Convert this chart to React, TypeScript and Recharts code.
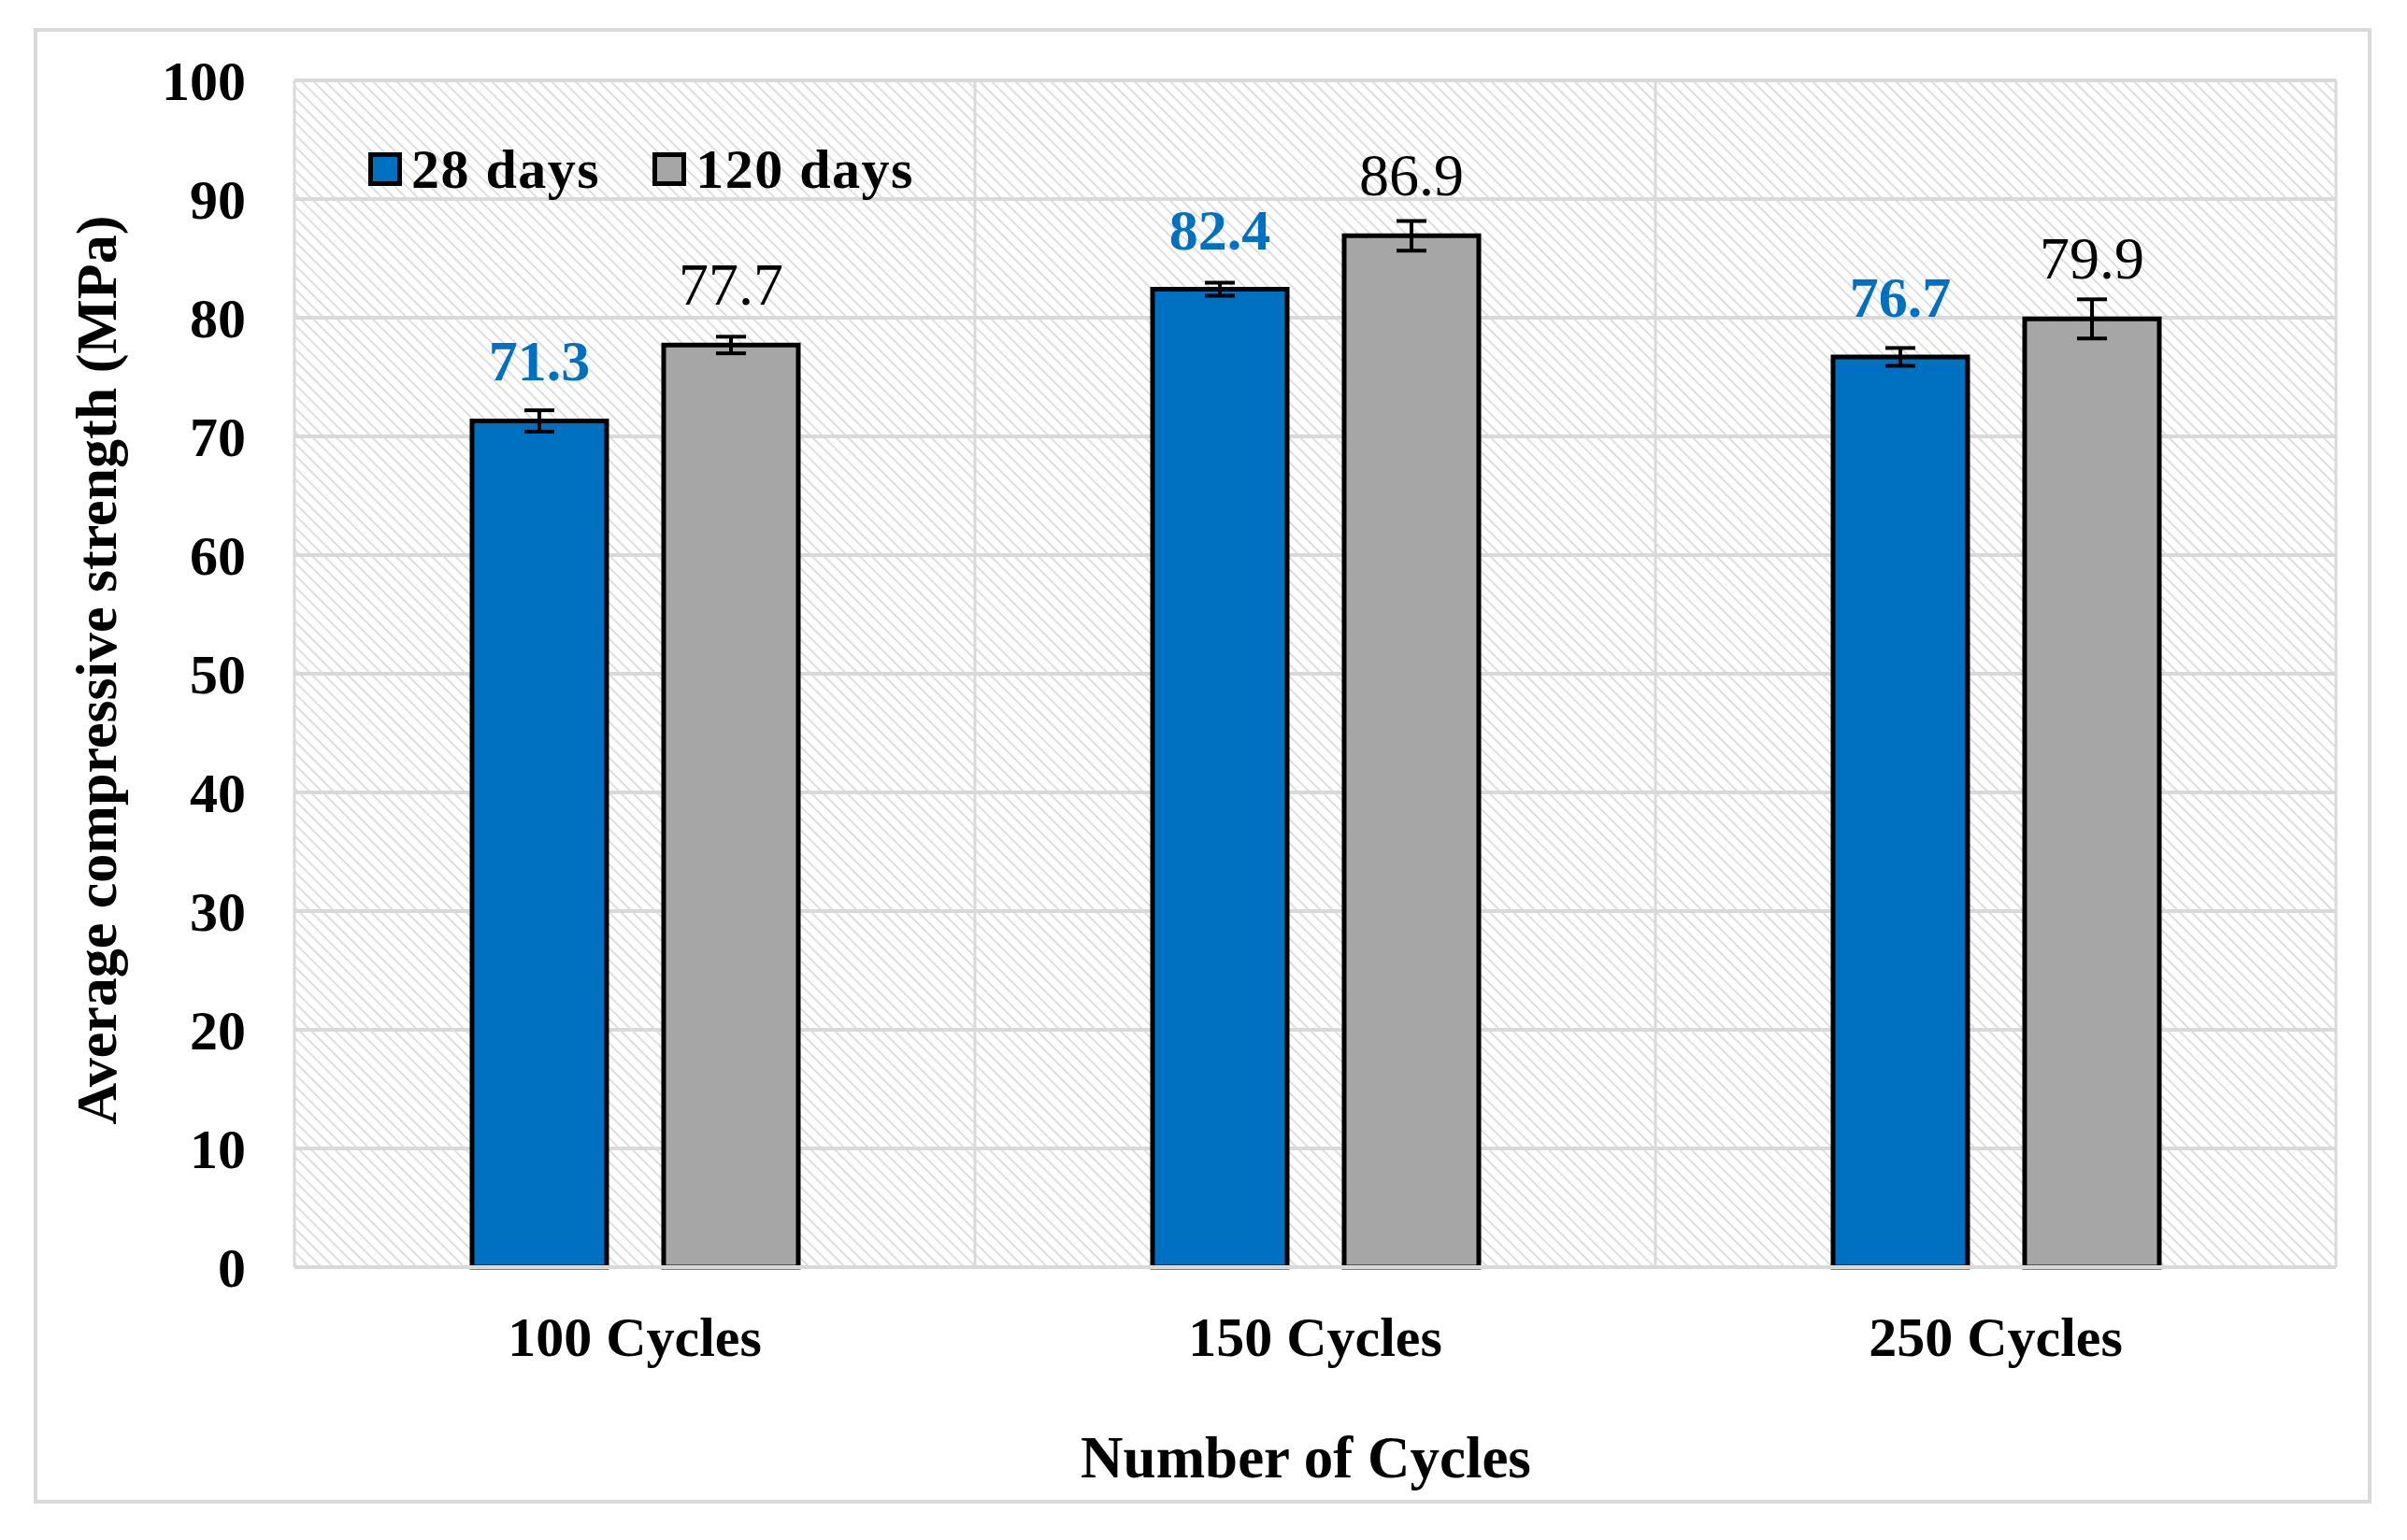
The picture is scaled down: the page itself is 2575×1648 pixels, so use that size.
import React from 'react';
import {
  BarChart,
  Bar,
  XAxis,
  YAxis,
  CartesianGrid,
  ErrorBar,
  LabelList,
  Legend,
  Label,
} from 'recharts';

// values
const categories = ['100 Cycles', '150 Cycles', '250 Cycles'];
const seriesNames = ['28 days', '120 days'];
const days28 = [71.3, 82.4, 76.7];
const days120 = [77.7, 86.9, 79.9];
const err28 = [0.9, 0.55, 0.75];
const err120 = [0.7, 1.25, 1.65];
const yTicks = [0, 10, 20, 30, 40, 50, 60, 70, 80, 90, 100];

const data = categories.map((name, i) => ({
  name,
  d28: days28[i],
  d120: days120[i],
  e28: err28[i],
  e120: err120[i],
}));

const FONT = '"Liberation Serif", "Times New Roman", serif';
const BLUE = '#0070C0';
const GRAY = '#A6A6A6';
const GRID = '#D9D9D9';

const renderLegend = (props: any) => {
  // keep the series order of the figure (recharts sorts by name)
  const payload = [...(props.payload || [])].sort(
    (a: any, b: any) => seriesNames.indexOf(a.value) - seriesNames.indexOf(b.value)
  );
  return (
    <div
      style={{
        display: 'flex',
        alignItems: 'center',
        height: 66,
        fontFamily: FONT,
        fontWeight: 'bold',
        fontSize: 60,
        letterSpacing: 1.5,
        color: '#000',
        whiteSpace: 'nowrap',
      }}
    >
      {payload.map((entry: any, i: number) => (
        <div
          key={i}
          style={{ display: 'flex', alignItems: 'center', marginRight: i === 0 ? 56 : 0 }}
        >
          <span
            style={{
              display: 'inline-block',
              boxSizing: 'border-box',
              width: 36,
              height: 36,
              background: entry.color,
              border: '5px solid #000',
              marginRight: 10,
            }}
          />
          <span>{entry.value}</span>
        </div>
      ))}
    </div>
  );
};

const renderXTitle = (props: any) => {
  const { viewBox } = props;
  return (
    <text
      x={viewBox.x + viewBox.width / 2 - 10}
      y={viewBox.y + 225}
      textAnchor="middle"
      fontFamily={FONT}
      fontWeight="bold"
      fontSize={63}
      fill="#000"
    >
      Number of Cycles
    </text>
  );
};

const renderYTitle = (props: any) => {
  const { viewBox } = props;
  const cx = viewBox.x + 102;
  const cy = viewBox.y + viewBox.height / 2 - 4;
  return (
    <text
      x={cx}
      y={cy}
      dy="0.35em"
      textAnchor="middle"
      transform={`rotate(-90, ${cx}, ${cy})`}
      fontFamily={FONT}
      fontWeight="bold"
      fontSize={62}
      fill="#000"
    >
      Average compressive strength (MPa)
    </text>
  );
};

const tickStyle = { fill: '#000', fontSize: 60, fontWeight: 'bold', fontFamily: FONT };

export default function App() {
  return (
    <div style={{ position: 'relative', width: 2575, height: 1648, margin: -8, background: '#fff' }}>
      <div
        style={{
          position: 'absolute',
          left: 36,
          top: 30,
          width: 2501,
          height: 1579,
          boxSizing: 'border-box',
          border: `4px solid ${GRID}`,
        }}
      />
      <div style={{ position: 'absolute', left: 0, top: 0 }}>
        <BarChart
          width={2575}
          height={1648}
          data={data}
          margin={{ top: 86, right: 76, bottom: 0, left: 0 }}
          barSize={144}
          barGap={61}
        >
          <defs>
            <pattern
              id="hatch"
              patternUnits="userSpaceOnUse"
              width={9}
              height={9}
              patternTransform="rotate(-45)"
            >
              <line x1={4.5} y1={0} x2={4.5} y2={9} stroke="#D2D2D2" strokeWidth={1.5} />
            </pattern>
          </defs>
          <CartesianGrid fill="url(#hatch)" vertical={false} stroke={GRID} strokeWidth={4} />
          <CartesianGrid
            horizontal={false}
            stroke={GRID}
            strokeWidth={3}
            verticalCoordinatesGenerator={({ offset }: any) =>
              [0, 1, 2, 3].map((i) => offset.left + (offset.width * i) / categories.length)
            }
          />
          <XAxis
            dataKey="name"
            height={292}
            tickLine={false}
            tickSize={0}
            tickMargin={52}
            axisLine={{ stroke: GRID, strokeWidth: 4 }}
            tick={tickStyle}
          >
            <Label content={renderXTitle} />
          </XAxis>
          <YAxis
            width={315}
            domain={[0, 100]}
            ticks={yTicks}
            interval={0}
            axisLine={false}
            tickLine={false}
            tickSize={0}
            tickMargin={52}
            tick={tickStyle}
          >
            <Label content={renderYTitle} />
          </YAxis>
          <Legend
            content={renderLegend}
            layout="horizontal"
            verticalAlign="middle"
            align="center"
            wrapperStyle={{ left: 394, top: 148, width: 'auto' }}
          />
          <Bar
            dataKey="d28"
            name={seriesNames[0]}
            fill={BLUE}
            stroke="#000"
            strokeWidth={5}
            isAnimationActive={false}
          >
            <ErrorBar dataKey="e28" width={16} strokeWidth={4} stroke="#000" isAnimationActive={false} />
            <LabelList
              dataKey="d28"
              position="top"
              offset={43}
              fill={BLUE}
              fontSize={62}
              fontWeight="bold"
              fontFamily={FONT}
              formatter={(v: any) => Number(v).toFixed(1)}
            />
          </Bar>
          <Bar
            dataKey="d120"
            name={seriesNames[1]}
            fill={GRAY}
            stroke="#000"
            strokeWidth={5}
            isAnimationActive={false}
          >
            <ErrorBar dataKey="e120" width={16} strokeWidth={4} stroke="#000" isAnimationActive={false} />
            <LabelList
              dataKey="d120"
              position="top"
              offset={43}
              fill="#000"
              fontSize={64}
              fontWeight="normal"
              fontFamily={FONT}
              formatter={(v: any) => Number(v).toFixed(1)}
            />
          </Bar>
        </BarChart>
      </div>
    </div>
  );
}
